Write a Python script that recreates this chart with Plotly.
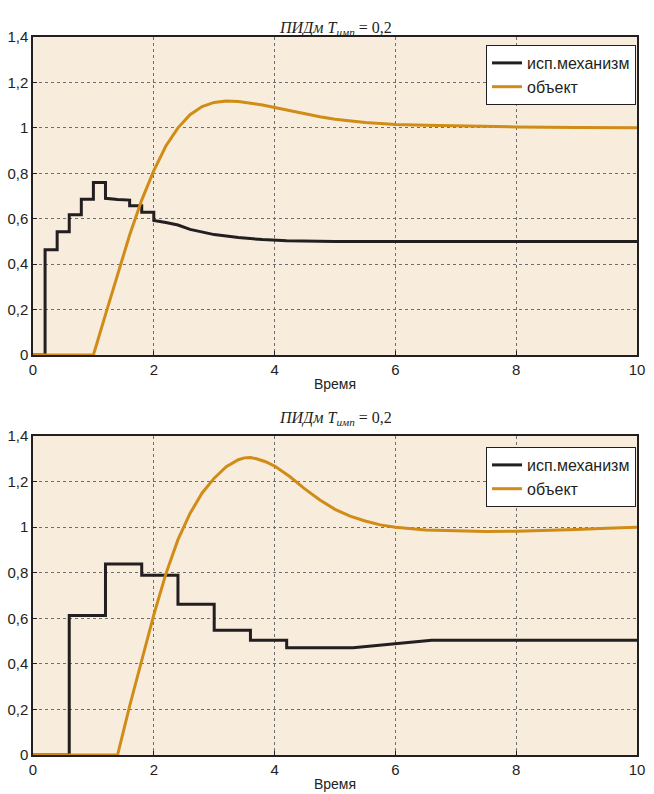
import plotly.graph_objects as go

# ---- data ----
# top panel
top_act_t = [0, 0.2, 0.2, 0.4, 0.4, 0.6, 0.6, 0.8, 0.8, 1.0, 1.0, 1.2, 1.2, 1.4, 1.4, 1.6, 1.6, 1.8, 1.8, 2.0, 2.0,
             2.2, 2.4, 2.6, 2.8, 3.0, 3.4, 3.8, 4.2, 4.6, 5.0, 6.0, 7.0, 8.0, 9.0, 10.0]
top_act_v = [0, 0, 0.463, 0.463, 0.543, 0.543, 0.617, 0.617, 0.686, 0.686, 0.759, 0.759, 0.690, 0.688, 0.685, 0.682, 0.657, 0.657, 0.628, 0.628, 0.592,
             0.583, 0.572, 0.553, 0.540, 0.530, 0.517, 0.508, 0.503, 0.500, 0.500, 0.500, 0.500, 0.500, 0.500, 0.500]
top_obj_t = [0, 1.0, 1.2, 1.4, 1.6, 1.8, 2.0, 2.2, 2.4, 2.6, 2.8, 3.0, 3.2, 3.4, 3.6, 3.8, 4.0, 4.25, 4.5, 4.75, 5.0, 5.25, 5.5, 5.75, 6.0, 6.5, 7.0, 8.0, 9.0, 10.0]
top_obj_v = [0, 0, 0.178, 0.356, 0.528, 0.682, 0.812, 0.920, 1.000, 1.058, 1.094, 1.112, 1.118, 1.116, 1.110, 1.101, 1.090, 1.076, 1.062, 1.049, 1.038, 1.030, 1.024, 1.019, 1.015, 1.011, 1.008, 1.004, 1.002, 1.0]

# bottom panel
bot_act_t = [0, 0.6, 0.6, 1.2, 1.2, 1.8, 1.8, 2.4, 2.4, 3.0, 3.0, 3.6, 3.6, 4.2, 4.2, 5.3, 6.6, 10.0]
bot_act_v = [0, 0, 0.612, 0.612, 0.838, 0.838, 0.789, 0.789, 0.662, 0.662, 0.548, 0.548, 0.504, 0.504, 0.471, 0.471, 0.504, 0.504]
bot_obj_t = [0, 1.4, 1.6, 1.8, 2.0, 2.2, 2.4, 2.6, 2.8, 3.0, 3.2, 3.4, 3.5, 3.6, 3.7, 3.85, 4.0, 4.25, 4.5, 4.75, 5.0, 5.25, 5.5, 5.75, 6.0, 6.5, 7.0, 7.5, 8.0, 8.5, 9.0, 9.5, 10.0]
bot_obj_v = [0, 0, 0.215, 0.420, 0.615, 0.795, 0.945, 1.060, 1.150, 1.215, 1.265, 1.296, 1.304, 1.306, 1.300, 1.287, 1.268, 1.222, 1.168, 1.119, 1.078, 1.048, 1.027, 1.010, 1.000, 0.988, 0.983, 0.981, 0.982, 0.985, 0.990, 0.995, 1.0]

names = ["исп.механизм", "объект"]
title_text = "<i>ПИДм T<sub>имп</sub></i> = 0,2"
x_title = "Время"
y_ticks = [0, 0.2, 0.4, 0.6, 0.8, 1.0, 1.2, 1.4]
x_ticks = [0, 2, 4, 6, 8, 10]

BLACK = "#231f20"
ORANGE = "#d08c17"
BG = "#f8ecdd"

fig = go.Figure()
fig.add_trace(go.Scatter(x=top_act_t, y=top_act_v, mode="lines", name=names[0],
                         line=dict(color=BLACK, width=3), xaxis="x", yaxis="y", legend="legend"))
fig.add_trace(go.Scatter(x=top_obj_t, y=top_obj_v, mode="lines", name=names[1],
                         line=dict(color=ORANGE, width=3), xaxis="x", yaxis="y", legend="legend"))
fig.add_trace(go.Scatter(x=bot_act_t, y=bot_act_v, mode="lines", name=names[0],
                         line=dict(color=BLACK, width=3), xaxis="x2", yaxis="y2", legend="legend2"))
fig.add_trace(go.Scatter(x=bot_obj_t, y=bot_obj_v, mode="lines", name=names[1],
                         line=dict(color=ORANGE, width=3), xaxis="x2", yaxis="y2", legend="legend2"))

W, H = 654, 794
xd = [33 / W, 637 / W]
yd_top = [1 - 355 / H, 1 - 37 / H]
yd_bot = [1 - 755 / H, 1 - 436 / H]

FONT = "Liberation Sans, Arial"
axis_common = dict(showline=True, linecolor=BLACK, linewidth=1.5, mirror=True,
                   showgrid=True, gridcolor="#6e6e6e", griddash="dot", gridwidth=1,
                   ticks="inside", ticklen=4, tickcolor=BLACK, zeroline=False, automargin=False,
                   tickfont=dict(family=FONT, size=15, color="#231f20"))
xtitle = dict(text=x_title, standoff=2, font=dict(family=FONT, size=14, color="#231f20"))

fig.update_layout(
    width=W, height=H, margin=dict(l=0, r=0, t=0, b=0),
    paper_bgcolor="white", plot_bgcolor=BG, separators=", ",
    font=dict(family=FONT, size=15, color="#231f20"),
    xaxis=dict(domain=xd, anchor="y", range=[0, 10], tickvals=x_ticks, title=xtitle, **axis_common),
    yaxis=dict(domain=yd_top, anchor="x", range=[0, 1.4], tickvals=y_ticks, **axis_common),
    xaxis2=dict(domain=xd, anchor="y2", range=[0, 10], tickvals=x_ticks, title=xtitle, **axis_common),
    yaxis2=dict(domain=yd_bot, anchor="x2", range=[0, 1.4], tickvals=y_ticks, **axis_common),
    legend=dict(x=636 / W, y=1 - 45 / H, xanchor="right", yanchor="top", bgcolor="white",
                bordercolor=BLACK, borderwidth=1, font=dict(family=FONT, size=16), tracegroupgap=0,
                itemwidth=30),
    legend2=dict(x=636 / W, y=1 - 447 / H, xanchor="right", yanchor="top", bgcolor="white",
                 bordercolor=BLACK, borderwidth=1, font=dict(family=FONT, size=16), tracegroupgap=0,
                 itemwidth=30),
    annotations=[
        dict(text=title_text, x=0.5 * (xd[0] + xd[1]), y=1 - 17 / H, xref="paper", yref="paper",
             showarrow=False, font=dict(family="Liberation Serif, Times New Roman", size=16, color="#231f20")),
        dict(text=title_text, x=0.5 * (xd[0] + xd[1]), y=1 - 418 / H, xref="paper", yref="paper",
             showarrow=False, font=dict(family="Liberation Serif, Times New Roman", size=16, color="#231f20")),
    ],
)

fig.write_html("out.html")
